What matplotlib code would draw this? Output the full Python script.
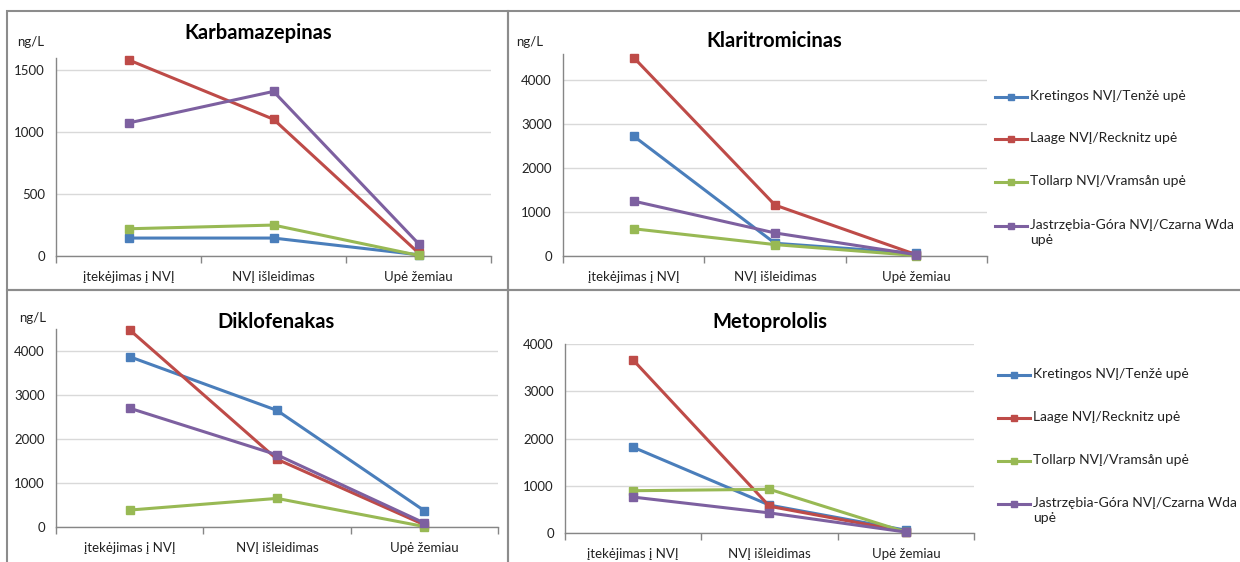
import numpy as np
import matplotlib.pyplot as plt
from matplotlib.patches import Rectangle
from matplotlib.lines import Line2D

plt.rcParams['font.family'] = ['Lato', 'DejaVu Sans']

categories = ['įtekėjimas į NVĮ', 'NVĮ išleidimas', 'Upė žemiau']
series_names = ['Kretingos NVĮ/Tenžė upė', 'Laage NVĮ/Recknitz upė',
                'Tollarp NVĮ/Vramsån upė', 'Jastrzębia-Góra NVĮ/Czarna Wda\nupė']
colors = ['#4a7ebb', '#be4b48', '#98b954', '#7d60a0']

# values in ng/L, order: Kretingos, Laage, Tollarp, Jastrzębia-Góra
karbamazepinas = [[145, 145, 10], [1585, 1105, 25], [220, 250, 5], [1075, 1330, 100]]
klaritromicinas = [[2730, 290, 60], [4520, 1160, 30], [620, 260, 10], [1250, 525, 30]]
diklofenakas = [[3870, 2650, 370], [4480, 1540, 50], [385, 650, 10], [2700, 1640, 90]]
metoprololis = [[1815, 590, 60], [3660, 565, 30], [895, 925, 20], [760, 425, 20]]

W, H = 1240, 562
fig = plt.figure(figsize=(W / 100, H / 100), dpi=100)


def px_axes(l, t, r, b):
    return fig.add_axes([l / W, 1 - b / H, (r - l) / W, (b - t) / H])


def draw_panel(ax, data, title, ymax, yticks, title_xy, unit_xy=None):
    x = np.arange(len(categories))
    for vals, c in zip(data, colors):
        ax.plot(x, vals, color=c, lw=2.2, marker='s', ms=5.5, zorder=3, clip_on=False)
    ax.set_xlim(-0.5, 2.5)
    ax.set_ylim(0, ymax)
    ax.set_yticks(yticks)
    ax.set_xticks(x)
    ax.set_xticklabels(categories)
    ax.set_xticks([-0.5, 0.5, 1.5, 2.5], minor=True)
    ax.tick_params(axis='x', which='major', length=0, pad=11, labelsize=9.5, labelcolor='#222222')
    ax.tick_params(axis='x', which='minor', length=5, color='#868686', width=1)
    ax.tick_params(axis='y', length=0, pad=8, labelsize=9.5, labelcolor='#222222')
    ax.grid(axis='y', color='#d9d9d9', lw=1)
    ax.set_axisbelow(True)
    for s in ['top', 'right']:
        ax.spines[s].set_visible(False)
    for s in ['left', 'bottom']:
        ax.spines[s].set_color('#868686')
        ax.spines[s].set_linewidth(1)
    fig.text(title_xy[0] / W, 1 - title_xy[1] / H, title, fontsize=14.5,
             fontweight='bold', ha='center', va='center')
    if unit_xy:
        fig.text(unit_xy[0] / W, 1 - unit_xy[1] / H, 'ng/L', fontsize=9.5,
                 ha='center', va='center', color='#222222')


def draw_legend(x0, ys):
    for name, c, y in zip(series_names, colors, ys):
        yf = 1 - y / H
        fig.add_artist(Line2D([x0 / W, (x0 + 32) / W], [yf, yf], color=c, lw=2.2,
                              transform=fig.transFigure))
        fig.add_artist(Line2D([(x0 + 16) / W], [yf], color=c, marker='s', ms=5,
                              transform=fig.transFigure))
        fig.text((x0 + 35) / W, yf + 0.013, name, fontsize=10, ha='left', va='top',
                 linespacing=1.3, color='#222222')


# panel frames
for l, t, r, b in [(7, 11, 508, 290), (508, 11, 1245, 290), (7, 290, 508, 570), (508, 290, 1245, 570)]:
    fig.add_artist(Rectangle((l / W, 1 - b / H), (r - l) / W, (b - t) / H,
                             transform=fig.transFigure, fill=False, ec='#8c8c8c', lw=1.5))

ax1 = px_axes(56, 58, 491, 256)
draw_panel(ax1, karbamazepinas, 'Karbamazepinas', 1600, [0, 500, 1000, 1500], (258, 33), (31, 42))

ax2 = px_axes(563, 54, 987, 256)
draw_panel(ax2, klaritromicinas, 'Klaritromicinas', 4600, [0, 1000, 2000, 3000, 4000], (774, 41), (530, 42))
draw_legend(995, [97, 139, 182, 226])

ax3 = px_axes(56, 329, 498, 527)
draw_panel(ax3, diklofenakas, 'Diklofenakas', 4500, [0, 1000, 2000, 3000, 4000], (276, 322), (33, 318))

ax4 = px_axes(565, 344, 974, 533)
draw_panel(ax4, metoprololis, 'Metoprololis', 4000, [0, 1000, 2000, 3000, 4000], (770, 322))
draw_legend(998, [375, 418, 461, 504])

fig.savefig('out.png', dpi=100)
